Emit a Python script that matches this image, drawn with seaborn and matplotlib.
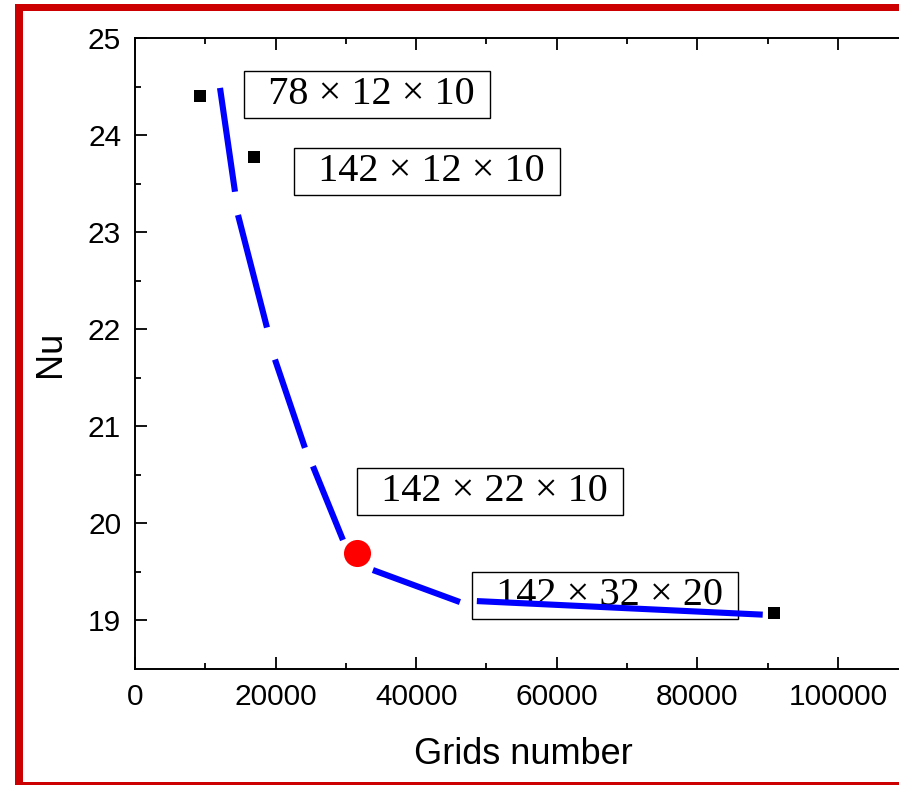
import numpy as np
import pandas as pd
import seaborn as sns
import matplotlib.pyplot as plt
from matplotlib.patches import Rectangle

# grid independence data
grid_x = [9240, 16920, 90870]          # black square points
grid_nu = [24.41, 23.78, 19.08]
chosen_x = [31570]                     # chosen grid (red dot)
chosen_nu = [19.70]

# blue dashed fit curve, one pair of ends per dash
curve_seg = [1, 1, 2, 2, 3, 3, 4, 4, 5, 5, 6, 6]
curve_x = [12090, 14220, 14650, 18770, 19910, 24170, 25310, 29580,
           33840, 46220, 48630, 89300]
curve_nu = [24.49, 23.42, 23.18, 22.02, 21.69, 20.78, 20.59, 19.83,
            19.52, 19.19, 19.20, 19.06]

labels = ["78 × 12 × 10", "142 × 12 × 10", "142 × 22 × 10", "142 × 32 × 20"]
label_x = [16140, 23250, 32210, 48560]
label_y = [24.42, 23.63, 20.33, 19.26]

curve = pd.DataFrame({"seg": curve_seg, "x": curve_x, "nu": curve_nu})

sns.set_style("ticks")
plt.rcParams['font.family'] = ['Liberation Sans', 'DejaVu Sans']
plt.rcParams['text.color'] = 'black'
plt.rcParams['axes.labelcolor'] = 'black'
plt.rcParams['xtick.color'] = 'black'
plt.rcParams['ytick.color'] = 'black'

fig = plt.figure(figsize=(8.99, 7.85), dpi=100)
ax = fig.add_axes([0.1502, 0.1478, 0.8632, 0.8032])

sns.lineplot(data=curve, x="x", y="nu", units="seg", estimator=None, sort=False,
             color="#0000ff", linewidth=4.4, solid_capstyle="butt", ax=ax, zorder=3)
sns.scatterplot(x=grid_x, y=grid_nu, marker="s", s=65, color="black",
                linewidth=0, ax=ax, zorder=4)
sns.scatterplot(x=chosen_x, y=chosen_nu, marker="o", s=380, color="#ff0000",
                linewidth=0, ax=ax, zorder=4)

for t, x, y in zip(labels, label_x, label_y):
    ax.text(x, y, "  " + t + " ", ha="left", va="center", fontsize=29, color="black",
            family=["Liberation Serif", "DejaVu Serif"], zorder=1,
            bbox=dict(boxstyle="square,pad=0.12", facecolor="white",
                      edgecolor="black", linewidth=1.0))

ax.set_xlim(0, 110400)
ax.set_ylim(18.5, 25)
ax.set_xticks([0, 20000, 40000, 60000, 80000, 100000])
ax.set_xticks(np.arange(10000, 110000, 20000), minor=True)
ax.set_yticks([19, 20, 21, 22, 23, 24, 25])
ax.set_yticks(np.arange(19.5, 25, 1.0), minor=True)
ax.tick_params(which="both", direction="in", top=True, right=True, width=1.3,
               labelsize=21.5, pad=10, colors="black", labelcolor="black")
ax.tick_params(which="major", length=8.5)
ax.tick_params(which="minor", length=4.5)
for sp in ax.spines.values():
    sp.set_linewidth(1.4)
    sp.set_color("black")

ax.set_xlabel("Grids number", fontsize=26, labelpad=19, color="black")
ax.set_ylabel("Nu", fontsize=26, labelpad=14, color="black")

# red frame around the picture
red = "#cc0000"
fig.patches.append(Rectangle((15 / 899, 0), 8 / 899, 781 / 785, transform=fig.transFigure,
                             facecolor=red, edgecolor="none"))
fig.patches.append(Rectangle((15 / 899, 774 / 785), 884 / 899, 7 / 785, transform=fig.transFigure,
                             facecolor=red, edgecolor="none"))
fig.patches.append(Rectangle((15 / 899, 0), 884 / 899, 3 / 785, transform=fig.transFigure,
                             facecolor=red, edgecolor="none"))

fig.savefig("out.png", dpi=100, facecolor="white")
